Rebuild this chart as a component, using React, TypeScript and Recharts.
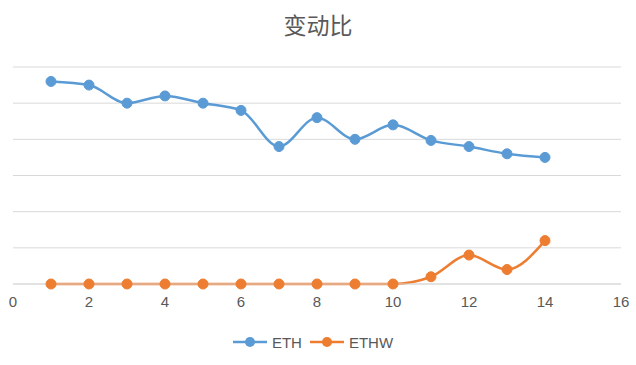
import React from 'react';
import { LineChart, Line, XAxis, YAxis, CartesianGrid, Legend } from 'recharts';

const periods = [1, 2, 3, 4, 5, 6, 7, 8, 9, 10, 11, 12, 13, 14];
const ethValues = [56, 55, 50, 52, 50, 48, 38, 46, 40, 44, 39.7, 38, 36, 35];
const ethwValues = [0, 0, 0, 0, 0, 0, 0, 0, 0, 0, 2, 8, 4, 12];
const xTicks = [0, 2, 4, 6, 8, 10, 12, 14, 16];
const yTicks = [0, 10, 20, 30, 40, 50, 60];

const ETH_COLOR = '#5B9BD5';
const ETHW_COLOR = '#ED7D31';
const TEXT_COLOR = '#595959';

const data = periods.map((p, i) => ({ x: p, ETH: ethValues[i], ETHW: ethwValues[i] }));

function LegendContent({ payload }: any) {
  return (
    <div style={{ display: 'flex', justifyContent: 'center', alignItems: 'center', height: 24 }}>
      {(payload || []).map((item: any) => (
        <div key={item.value} style={{ display: 'flex', alignItems: 'center', marginRight: 8 }}>
          <svg width={34} height={12} style={{ marginRight: 5 }}>
            <line x1={0} y1={6} x2={34} y2={6} stroke={item.color} strokeWidth={2.5} />
            <circle cx={17} cy={6} r={5} fill={item.color} />
          </svg>
          <span style={{ color: TEXT_COLOR, fontSize: 15, fontFamily: 'Liberation Sans, Arial, sans-serif' }}>
            {item.value}
          </span>
        </div>
      ))}
    </div>
  );
}

export default function App() {
  return (
    <div style={{ position: 'absolute', left: 0, top: 0, width: 636, height: 365, background: '#fff' }}>
      <div
        style={{
          position: 'absolute',
          top: 7,
          width: 636,
          textAlign: 'center',
          fontSize: 23,
          color: TEXT_COLOR,
          fontFamily: '"Noto Sans CJK SC", sans-serif',
        }}
      >
        变动比
      </div>
      <LineChart width={636} height={365} data={data} margin={{ top: 67, right: 15, bottom: 11, left: 13 }}>
        <CartesianGrid horizontal vertical={false} stroke="#D9D9D9" strokeWidth={1} />
        <XAxis
          dataKey="x"
          type="number"
          domain={[0, 16]}
          ticks={xTicks}
          axisLine={{ stroke: '#D9D9D9' }}
          tickLine={false}
          tick={{ fill: TEXT_COLOR, fontSize: 15, fontFamily: 'Liberation Sans, Arial, sans-serif' }}
          tickMargin={6}
          height={46}
        />
        <YAxis hide domain={[0, 60]} ticks={yTicks} />
        <Legend verticalAlign="bottom" content={<LegendContent />} />
        <Line
          type="monotone"
          dataKey="ETH"
          stroke={ETH_COLOR}
          strokeWidth={2.5}
          dot={{ r: 5, fill: ETH_COLOR, stroke: ETH_COLOR, strokeWidth: 1 }}
          isAnimationActive={false}
        />
        <Line
          type="monotone"
          dataKey="ETHW"
          stroke={ETHW_COLOR}
          strokeWidth={2.5}
          dot={{ r: 5, fill: ETHW_COLOR, stroke: ETHW_COLOR, strokeWidth: 1 }}
          isAnimationActive={false}
        />
      </LineChart>
    </div>
  );
}
